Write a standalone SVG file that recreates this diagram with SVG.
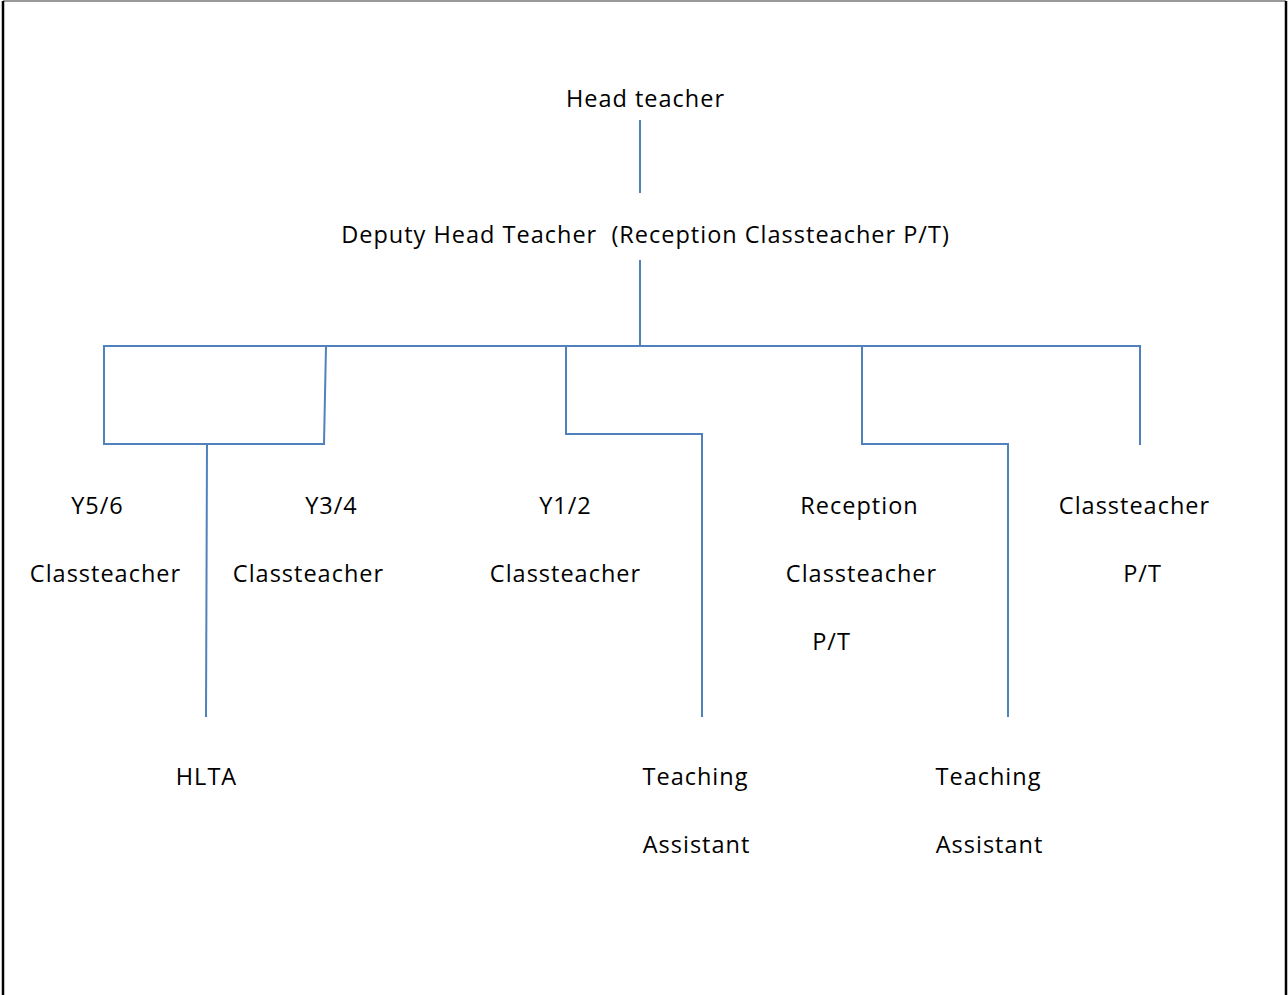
<svg xmlns="http://www.w3.org/2000/svg" width="1288" height="995" viewBox="0 0 1288 995">
<style>
text{font-family:"Open Sans","DejaVu Sans",sans-serif;font-size:23.5px;letter-spacing:1px;fill:#000;text-anchor:middle}
.c{stroke:#4f81bd;stroke-width:2;fill:none;stroke-linecap:square}
</style>
<rect x="0" y="0" width="1288" height="995" fill="#fff"/>
<path d="M3,1 H1286" fill="none" stroke="#999" stroke-width="2"/>
<path d="M3,995 V1 M1286,1 V995" fill="none" stroke="#000" stroke-width="2.5"/>
<g id="connectors" class="c">
<path d="M640,121 V192"/>
<path d="M640,261 V346"/>
<path d="M104,346 H1140"/>
<path d="M104,346 V444 H324 L326,346"/>
<path d="M207,444 L206,716"/>
<path d="M566,346 V434 H702 V716"/>
<path d="M862,346 V444 H1008 V716"/>
<path d="M1140,346 V444"/>
</g>
<g id="head"><text x="645.5" y="107">Head teacher</text></g>
<g id="deputy"><text x="645.5" y="243" xml:space="preserve">Deputy Head Teacher  (Reception Classteacher P/T)</text></g>
<g id="y56"><text x="97.5" y="514">Y5/6</text><text x="105.5" y="582">Classteacher</text></g>
<g id="y34"><text x="331.5" y="514">Y3/4</text><text x="308.5" y="582">Classteacher</text></g>
<g id="y12"><text x="565.5" y="514">Y1/2</text><text x="565.5" y="582">Classteacher</text></g>
<g id="reception"><text x="859.5" y="514">Reception</text><text x="861.5" y="582">Classteacher</text><text x="831.5" y="650">P/T</text></g>
<g id="classteacher-pt"><text x="1134.5" y="514">Classteacher</text><text x="1142.5" y="582">P/T</text></g>
<g id="hlta"><text x="206.5" y="785">HLTA</text></g>
<g id="ta1"><text x="695.5" y="785">Teaching</text><text x="696.5" y="853">Assistant</text></g>
<g id="ta2"><text x="988.5" y="785">Teaching</text><text x="989.5" y="853">Assistant</text></g>
</svg>
